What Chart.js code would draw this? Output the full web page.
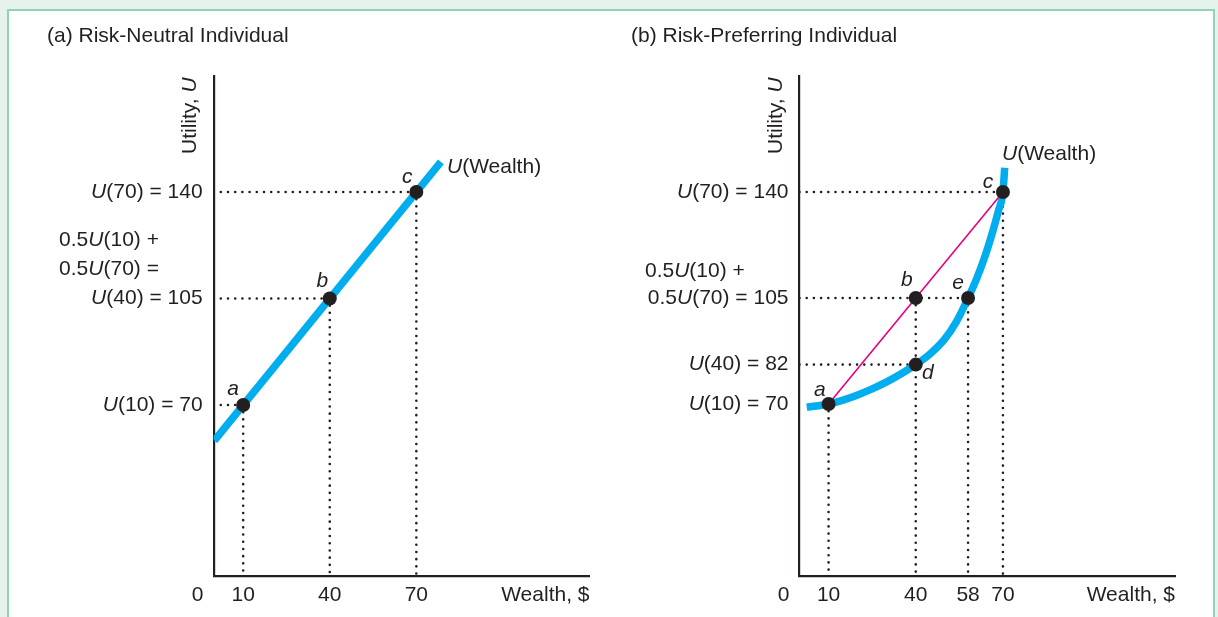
<!DOCTYPE html>
<html>
<head>
<meta charset="utf-8">
<script src="https://cdn.jsdelivr.net/npm/chart.js@4.4.1/dist/chart.umd.min.js"></script>
<style>
  html, body { margin: 0; padding: 0; background: #e6f3ed; width: 1218px; height: 617px; overflow: hidden; }
  #frame { position: absolute; left: 7px; top: 9px; width: 1208px; height: 700px; box-sizing: border-box;
           border: 2px solid #92d3b5; background: #ffffff; }
  canvas { position: absolute; top: 0; }
  #ca { left: 0; }
  #cb { left: 609px; }
</style>
</head>
<body>
<div id="frame"></div>
<canvas id="ca" width="609" height="617"></canvas>
<canvas id="cb" width="609" height="617"></canvas>
<script>
// ---------- Panel (a): risk-neutral ----------
const wealthA = [10, 40, 70];
const utilityA = [70, 105, 140];
const pointNamesA = ['a', 'b', 'c'];
const lineWealthA = [0, 78.5];
const lineUtilityA = [58.3, 149.9];
const hGuideWealthA = [10, 40, 70];
const hGuideUtilityA = [70, 105, 140];
const vGuideWealthA = [10, 40, 70];
const vGuideUtilityA = [70, 105, 140];
const xTickValuesA = [10, 40, 70];
const xTickTextA = ['10', '40', '70'];
const yTickValuesA = [140, 105, 70];
const yTickTextA = [['*U*(70) = 140'], ['0.5*U*(10) +', '0.5*U*(70) =', '*U*(40) = 105'], ['*U*(10) = 70']];

// ---------- Panel (b): risk-preferring ----------
const wealthB = [10, 40, 40, 58, 70];
const utilityB = [70, 105, 83, 105, 140];
const pointNamesB = ['a', 'b', 'd', 'e', 'c'];
const curveWealthB = [2.5, 10, 15, 20, 25, 30, 35, 40, 45, 50, 54, 58, 61, 64, 66.5, 68.5, 70, 70.6];
const curveUtilityB = [68.9, 70, 71.3, 73.0, 75.0, 77.3, 80.0, 83, 86.6, 91.5, 97.2, 105, 111.5, 119.3, 127, 134, 140, 148];
const chordWealthB = [10, 70];
const chordUtilityB = [70, 140];
const hGuideWealthB = [70, 58, 40];
const hGuideUtilityB = [140, 105, 83];
const vGuideWealthB = [10, 40, 58, 70];
const vGuideUtilityB = [70, 105, 105, 140];
const xTickValuesB = [10, 40, 58, 70];
const xTickTextB = ['10', '40', '58', '70'];
const yTickValuesB = [140, 105, 83, 70];
const yTickTextB = [['*U*(70) = 140'], ['0.5*U*(10) +', '0.5*U*(70) = 105'], ['*U*(40) = 82'], ['*U*(10) = 70']];

// ---------- styles ----------
const FAMILY = '"Liberation Sans", Arial, Helvetica, sans-serif';
const FS = 21;
const INK = '#231f20';
const BLUE = '#00aeef';
const MAGENTA = '#e6007e';

function fontFor(italic) { return (italic ? 'italic ' : '') + FS + 'px ' + FAMILY; }

function rich(ctx, text, x, y, align) {
  const parts = text.split('*');
  let w = 0;
  parts.forEach((p, i) => { ctx.font = fontFor(i % 2 === 1); w += ctx.measureText(p).width; });
  let cx = align === 'right' ? x - w : (align === 'center' ? x - w / 2 : x);
  ctx.textAlign = 'left';
  ctx.textBaseline = 'middle';
  ctx.fillStyle = INK;
  parts.forEach((p, i) => {
    ctx.font = fontFor(i % 2 === 1);
    ctx.fillText(p, cx, y);
    cx += ctx.measureText(p).width;
  });
}

function xy(ws, us) { return ws.map((w, i) => ({ x: w, y: us[i] })); }

function guides(hW, hU, vW, vU, xmin, ymin) {
  const ds = [];
  const base = { showLine: true, pointRadius: 0, borderColor: INK, borderWidth: 2.6,
                 borderDash: [0, 7.2], borderCapStyle: 'round', order: 5 };
  hW.forEach((w, i) => ds.push(Object.assign({}, base, { data: [{ x: xmin, y: hU[i] }, { x: w, y: hU[i] }] })));
  vW.forEach((w, i) => ds.push(Object.assign({}, base, { data: [{ x: w, y: vU[i] }, { x: w, y: ymin }] })));
  return ds;
}

function makeChart(id, cfg) {
  const annot = {
    id: 'annot',
    afterDraw(chart) {
      const ctx = chart.ctx;
      const xs = chart.scales.x, ys = chart.scales.y;
      const L = chart.chartArea.left, R = chart.chartArea.right;
      ctx.save();
      rich(ctx, cfg.title, cfg.titleX, 36, 'left');
      ctx.save();
      ctx.translate(L - 23, 154);
      ctx.rotate(-Math.PI / 2);
      rich(ctx, 'Utility, *U*', 0, 0, 'left');
      ctx.restore();
      rich(ctx, '0', L - 16, 595, 'center');
      cfg.xTickValues.forEach((v, i) => rich(ctx, cfg.xTickText[i], xs.getPixelForValue(v), 595, 'center'));
      rich(ctx, 'Wealth, $', R, 595, 'right');
      cfg.yTickValues.forEach((v, i) => {
        const lines = cfg.yTickText[i];
        const py = ys.getPixelForValue(v);
        lines.forEach((t, j) => {
          const ly = py - (lines.length - 1 - j) * cfg.lineGap;
          if (j === lines.length - 1) rich(ctx, t, L - 11, ly, 'right');
          else rich(ctx, t, L - 154.5, ly, 'left');
        });
      });
      cfg.pointW.forEach((w, i) => {
        const off = cfg.letterOffsets[i];
        rich(ctx, '*' + cfg.pointNames[i] + '*', xs.getPixelForValue(w) + off[0], ys.getPixelForValue(cfg.pointU[i]) + off[1], 'center');
      });
      rich(ctx, '*U*(Wealth)', cfg.curveLabel[0], cfg.curveLabel[1], 'left');
      ctx.restore();
    }
  };
  return new Chart(document.getElementById(id), {
    type: 'scatter',
    data: { datasets: cfg.datasets },
    options: {
      responsive: false,
      animation: false,
      events: [],
      layout: { autoPadding: false, padding: cfg.padding },
      plugins: { legend: { display: false }, tooltip: { enabled: false }, title: { display: false } },
      scales: {
        x: { type: 'linear', min: cfg.xmin, max: cfg.xmax,
             grid: { display: false, drawTicks: false }, ticks: { display: false },
             border: { display: true, color: INK, width: 2.2 } },
        y: { type: 'linear', min: cfg.ymin, max: cfg.ymax,
             grid: { display: false, drawTicks: false }, ticks: { display: false },
             border: { display: true, color: INK, width: 2.2 } }
      }
    },
    plugins: [annot]
  });
}

const xminA = -0.25, xmaxA = 130, yminA = 13.8, ymaxA = 178.1;
makeChart('ca', {
  title: '(a) Risk-Neutral Individual', titleX: 47, lineGap: 29,
  padding: { left: 213.6, right: 19.5, top: 76, bottom: 41 },
  xmin: xminA, xmax: xmaxA, ymin: yminA, ymax: ymaxA,
  xTickValues: xTickValuesA, xTickText: xTickTextA,
  yTickValues: yTickValuesA, yTickText: yTickTextA,
  pointW: wealthA, pointU: utilityA, pointNames: pointNamesA,
  letterOffsets: [[-10, -16], [-7.5, -17], [-9, -15]],
  curveLabel: [447, 167],
  datasets: [
    { data: xy(wealthA, utilityA), pointRadius: 7, pointBackgroundColor: INK, pointBorderWidth: 0, order: 0 },
    { data: xy(lineWealthA, lineUtilityA), showLine: true, pointRadius: 0, borderColor: BLUE, borderWidth: 7.5, borderCapStyle: 'butt', order: 2 },
    ...guides(hGuideWealthA, hGuideUtilityA, vGuideWealthA, vGuideUtilityA, xminA, yminA)
  ]
});

const xminB = 0, xmaxB = 129.2, yminB = 13.2, ymaxB = 178.3;
makeChart('cb', {
  title: '(b) Risk-Preferring Individual', titleX: 22, lineGap: 27,
  padding: { left: 190.5, right: 43, top: 76, bottom: 41 },
  xmin: xminB, xmax: xmaxB, ymin: yminB, ymax: ymaxB,
  xTickValues: xTickValuesB, xTickText: xTickTextB,
  yTickValues: yTickValuesB, yTickText: yTickTextB,
  pointW: wealthB, pointU: utilityB, pointNames: pointNamesB,
  letterOffsets: [[-8.6, -14], [-9, -18], [12, 9], [-10, -15], [-15, -10]],
  curveLabel: [393, 154],
  datasets: [
    { data: xy(wealthB, utilityB), pointRadius: 7, pointBackgroundColor: INK, pointBorderWidth: 0, order: 0 },
    { data: xy(chordWealthB, chordUtilityB), showLine: true, pointRadius: 0, borderColor: MAGENTA, borderWidth: 1.6, order: 1 },
    { data: xy(curveWealthB, curveUtilityB), showLine: true, pointRadius: 0, borderColor: BLUE, borderWidth: 7.5,
      borderCapStyle: 'butt', cubicInterpolationMode: 'monotone', order: 2 },
    ...guides(hGuideWealthB, hGuideUtilityB, vGuideWealthB, vGuideUtilityB, xminB, yminB)
  ]
});
</script>
</body>
</html>
